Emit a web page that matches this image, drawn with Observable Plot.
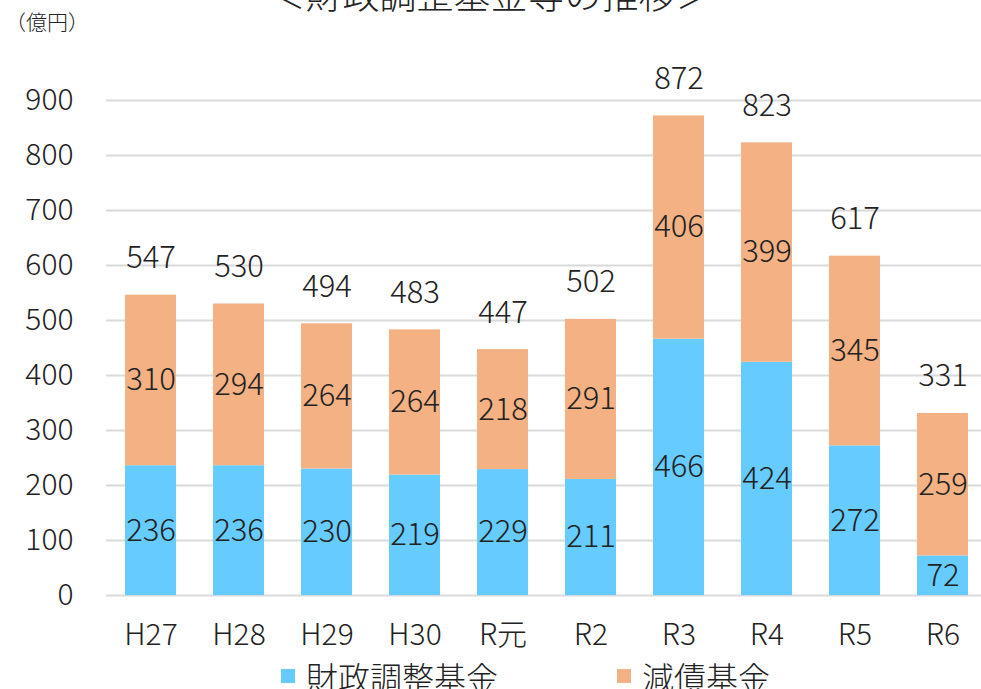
<!DOCTYPE html>
<html><head><meta charset="utf-8">
<script src="https://cdn.jsdelivr.net/npm/d3@7"></script>
<script src="https://cdn.jsdelivr.net/npm/@observablehq/plot@0.6"></script>
<style>
body{margin:0;background:#fff;font-family:"Noto Sans CJK JP",sans-serif;}
#wrap{position:relative;width:981px;height:689px;overflow:hidden;}
.ov{position:absolute;color:#222;font-weight:300;white-space:nowrap;line-height:1;}
#title{left:0;width:981px;text-align:center;top:-25px;font-size:37px;}
#unit{left:5px;top:11px;font-size:21px;}
#legend{left:281px;top:660px;font-size:32px;display:flex;align-items:center;}
.sw{display:inline-block;width:14px;height:14px;margin-right:11px;}
svg text{font-weight:300;}
</style></head>
<body><div id="wrap">
<div class="ov" id="title">＜財政調整基金等の推移＞</div>
<div class="ov" id="unit">（億円）</div>
<div class="ov" id="legend"><span class="sw" style="background:#66CCFF"></span>財政調整基金<span style="display:inline-block;width:119px"></span><span class="sw" style="background:#F4B183"></span>減債基金</div>
</div>
<script>
const categories = ["H27","H28","H29","H30","R元","R2","R3","R4","R5","R6"];
const fund = [236,236,230,219,229,211,466,424,272,72];
const debt = [310,294,264,264,218,291,406,399,345,259];
const totals = [547,530,494,483,447,502,872,823,617,331];
const seriesNames = ["財政調整基金","減債基金"];
const colors = ["#66CCFF","#F4B183"];

const rows = [];
categories.forEach((c,i)=>{
  rows.push({cat:c, series:seriesNames[0], value:fund[i], lo:0, hi:fund[i]});
  rows.push({cat:c, series:seriesNames[1], value:debt[i], lo:fund[i], hi:fund[i]+debt[i]});
});
const tot = categories.map((c,i)=>({cat:c, total:totals[i], top:fund[i]+debt[i]}));

const chart = Plot.plot({
  width:981, height:689,
  marginTop:100, marginBottom:94, marginLeft:106, marginRight:0,
  style:{fontFamily:"'Noto Sans CJK JP', sans-serif", fontSize:"30px", color:"#222", background:"transparent"},
  x:{domain:categories, range:[106,987], paddingInner:0.42, paddingOuter:0.21, label:null, tickSize:0, tickPadding:28},
  y:{domain:[0,900], ticks:d3.range(0,901,100), label:null, tickSize:0, tickPadding:33},
  color:{domain:seriesNames, range:colors},
  marks:[
    Plot.gridY(d3.range(0,901,100), {stroke:"#d9d9d9", strokeOpacity:1, strokeWidth:2}),
    Plot.barY(rows, {x:"cat", y1:"lo", y2:"hi", fill:"series"}),
    Plot.text(rows, {x:"cat", y:d=>(d.lo+d.hi)/2, text:d=>String(d.value), fill:"#222", fontSize:31}),
    Plot.text(tot, {x:"cat", y:"top", text:d=>String(d.total), fill:"#222", fontSize:31, dy:-37}),
    Plot.axisY({ticks:d3.range(0,901,100), tickSize:0, tickPadding:33, fontSize:30, label:null}),
    Plot.axisX({tickSize:0, tickPadding:28, fontSize:30, label:null})
  ]
});
const wrap = document.getElementById("wrap");
chart.style.position="absolute"; chart.style.left="0"; chart.style.top="0";
wrap.insertBefore(chart, wrap.firstChild);
</script>
</body></html>
